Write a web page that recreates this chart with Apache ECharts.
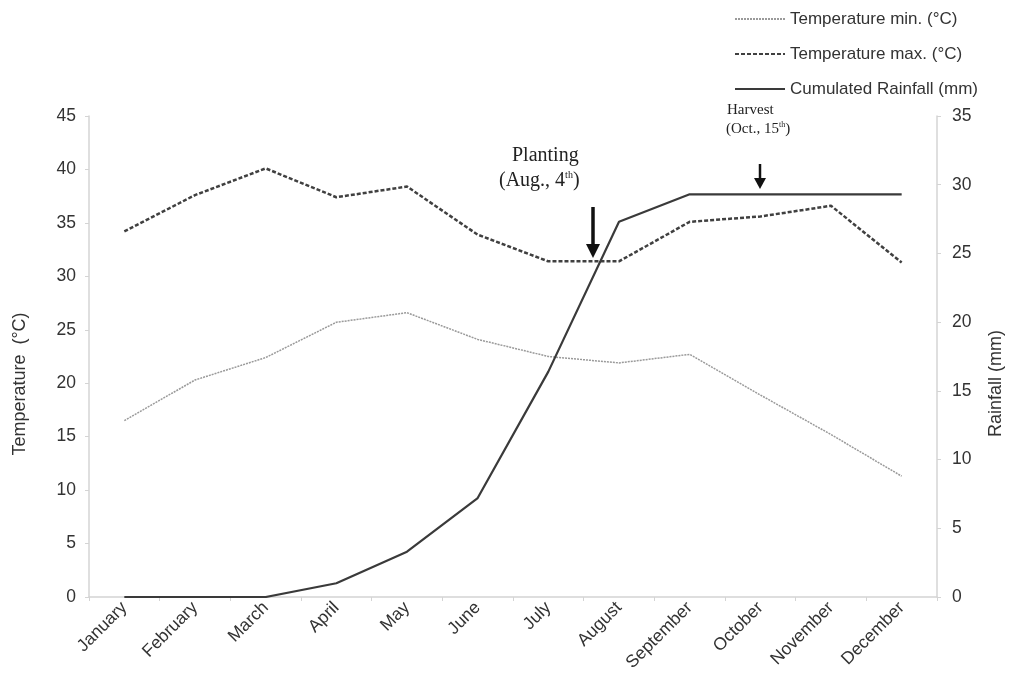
<!DOCTYPE html>
<html>
<head>
<meta charset="utf-8">
<script src="https://cdn.jsdelivr.net/npm/echarts@6/dist/echarts.min.js"></script>
<style>
html,body{margin:0;padding:0;background:#fff;}
#chart{width:1013px;height:683px;}
</style>
</head>
<body>
<div id="chart"></div>
<script>
const months = ['January','February','March','April','May','June','July','August','September','October','November','December'];
const tempMin = [16.5, 20.3, 22.4, 25.7, 26.6, 24.1, 22.5, 21.9, 22.7, 18.9, 15.2, 11.3];
const tempMax = [34.2, 37.6, 40.1, 37.4, 38.4, 33.9, 31.4, 31.4, 35.1, 35.6, 36.6, 31.3];
const rainfall = [0, 0, 0, 1.0, 3.3, 7.2, 16.4, 27.3, 29.3, 29.3, 29.3, 29.3];
const tempTicks = {min: 0, max: 45, interval: 5};
const rainTicks = {min: 0, max: 35, interval: 5};

const chart = echarts.init(document.getElementById('chart'));
const sans = 'Liberation Sans, Arial, sans-serif';
const labelFont = {fontFamily: sans, color: '#333', fontSize: 17.5};
const serif = 'Liberation Serif, Times New Roman, serif';
const axisLine = {show: true, lineStyle: {color: '#d4d4d4', width: 1.5}};

chart.setOption({
  animation: false,
  backgroundColor: '#fff',
  grid: {left: 89, right: 70, top: 116, bottom: 86},
  legend: {
    orient: 'vertical',
    left: 729, top: 5,
    itemWidth: 50, itemHeight: 14, itemGap: 17,
    itemStyle: {opacity: 0},
    textStyle: {fontFamily: sans, fontSize: 17, color: '#333', lineHeight: 18},
    data: ['Temperature min. (°C)', 'Temperature max. (°C)', 'Cumulated Rainfall (mm)']
  },
  xAxis: {
    type: 'category',
    data: months,
    boundaryGap: true,
    axisLine: axisLine,
    axisTick: {show: true, length: 4, lineStyle: {color: '#d4d4d4'}},
    axisLabel: Object.assign({rotate: 45, margin: 8, interval: 0}, labelFont),
    splitLine: {show: false}
  },
  yAxis: [
    {
      type: 'value', min: tempTicks.min, max: tempTicks.max, interval: tempTicks.interval,
      name: 'Temperature  (°C)', nameLocation: 'middle', nameGap: 60,
      nameTextStyle: Object.assign({}, labelFont, {fontSize: 18, padding: [0, 55, 0, 0]}),
      axisLine: axisLine,
      axisTick: {show: true, length: 4, lineStyle: {color: '#d4d4d4'}},
      axisLabel: Object.assign({margin: 13}, labelFont),
      splitLine: {show: false}
    },
    {
      type: 'value', min: rainTicks.min, max: rainTicks.max, interval: rainTicks.interval,
      name: 'Rainfall (mm)', nameLocation: 'middle', nameGap: 50,
      nameTextStyle: Object.assign({}, labelFont, {fontSize: 18, padding: [0, 54, 0, 0]}),
      position: 'right',
      axisLine: axisLine,
      axisTick: {show: true, length: 4, lineStyle: {color: '#d4d4d4'}},
      axisLabel: Object.assign({margin: 15}, labelFont),
      splitLine: {show: false}
    }
  ],
  series: [
    {
      name: 'Temperature min. (°C)', type: 'line', yAxisIndex: 0, data: tempMin,
      symbol: 'none', color: '#9a9a9a',
      lineStyle: {color: '#9a9a9a', width: 1.5, type: [2, 1]}
    },
    {
      name: 'Temperature max. (°C)', type: 'line', yAxisIndex: 0, data: tempMax,
      symbol: 'none', color: '#404040',
      lineStyle: {color: '#404040', width: 2.5, type: [4, 2]}
    },
    {
      name: 'Cumulated Rainfall (mm)', type: 'line', yAxisIndex: 1, data: rainfall,
      symbol: 'none', color: '#3a3a3a',
      lineStyle: {color: '#3a3a3a', width: 2.2}
    }
  ],
  graphic: [
    {type: 'text', left: 512, top: 146, style: {
      text: 'Planting', font: '20px ' + serif, fill: '#222'}},
    {type: 'text', left: 499, top: 170, style: {
      text: '{a|(Aug., 4}{s|th}{a|)}', fill: '#222',
      rich: {a: {fontFamily: serif, fontSize: 20, color: '#222'},
             s: {fontFamily: serif, fontSize: 10, color: '#222', verticalAlign: 'top', padding: [0, 0, 11, 0]}}}},
    {type: 'line', shape: {x1: 593, y1: 207, x2: 593, y2: 246}, style: {stroke: '#111', lineWidth: 3.5}},
    {type: 'polygon', shape: {points: [[586, 244], [600, 244], [593, 258]]}, style: {fill: '#111'}},
    {type: 'text', left: 727, top: 103, style: {
      text: 'Harvest', font: '15px ' + serif, fill: '#222'}},
    {type: 'text', left: 726, top: 121, style: {
      text: '{a|(Oct., 15}{s|th}{a|)}', fill: '#222',
      rich: {a: {fontFamily: serif, fontSize: 15, color: '#222'},
             s: {fontFamily: serif, fontSize: 8, color: '#222', verticalAlign: 'top', padding: [0, 0, 8, 0]}}}},
    {type: 'line', shape: {x1: 760, y1: 164, x2: 760, y2: 180}, style: {stroke: '#111', lineWidth: 2.5}},
    {type: 'polygon', shape: {points: [[754, 178], [766, 178], [760, 189]]}, style: {fill: '#111'}}
  ]
});
</script>
</body>
</html>
